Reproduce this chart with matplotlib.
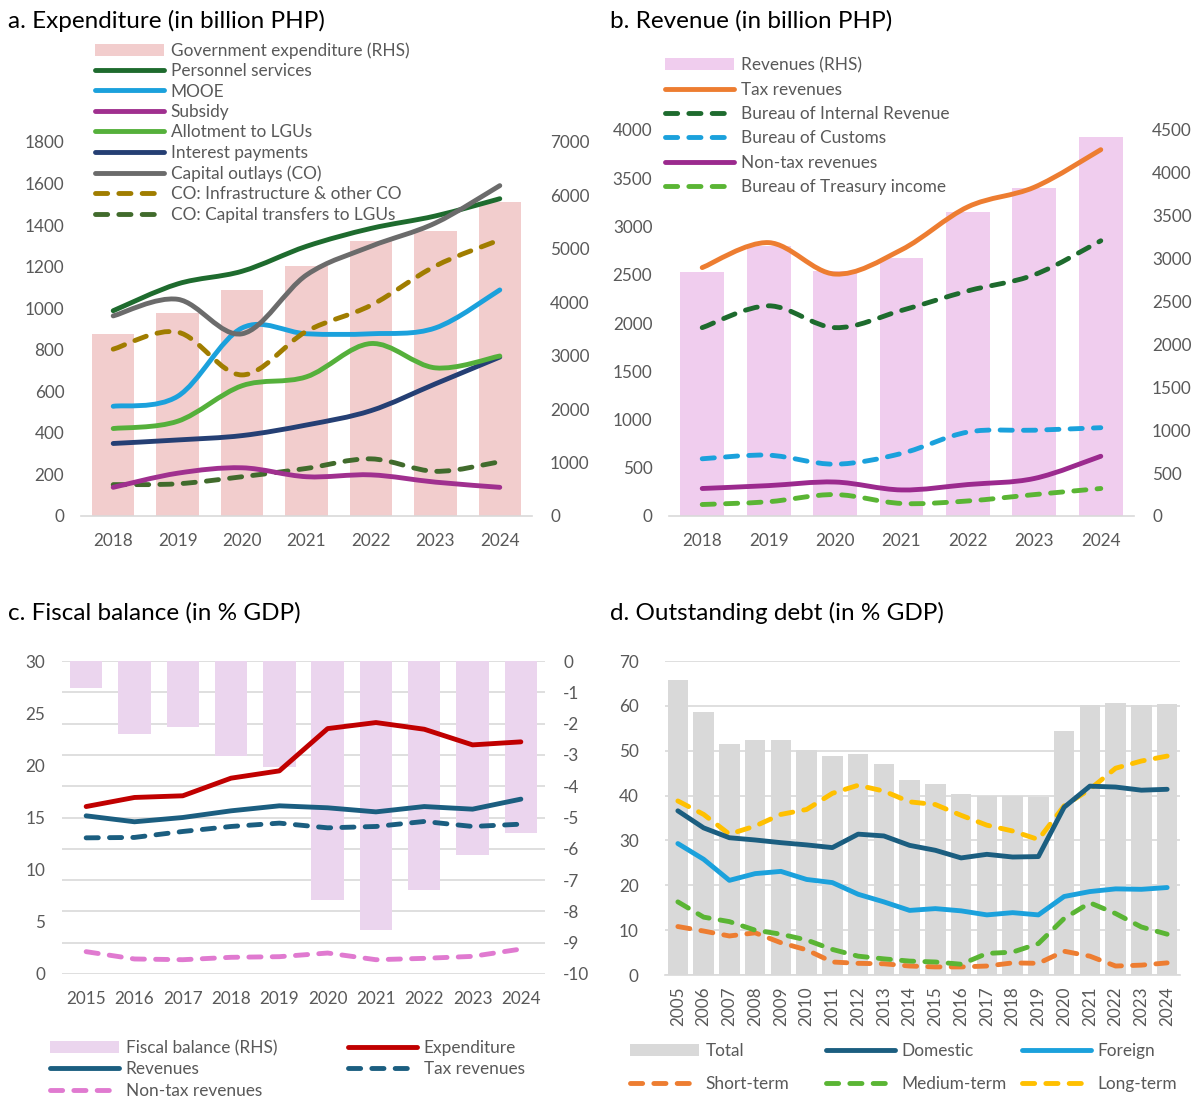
import numpy as np
import matplotlib
matplotlib.use("Agg")
import matplotlib.pyplot as plt
from matplotlib.path import Path
from matplotlib.patches import PathPatch, Patch
from matplotlib.lines import Line2D

plt.rcParams['font.family'] = ['Lato', 'DejaVu Sans']
plt.rcParams['axes.unicode_minus'] = False

W, H = 1197, 1097
fig = plt.figure(figsize=(W / 100, H / 100), dpi=100)

# ---------------- DATA ----------------
years_a = [2018, 2019, 2020, 2021, 2022, 2023, 2024]
gov_expenditure = [3409, 3797, 4225, 4673, 5154, 5334, 5876]
personnel = [988, 1117, 1178, 1298, 1384, 1444, 1527]
mooe = [528, 576, 905, 877, 877, 905, 1088]
subsidy = [138, 206, 232, 189, 198, 163, 138]
allot_lgu = [421, 456, 627, 670, 830, 713, 770]
interest = [349, 366, 387, 438, 507, 636, 765]
cap_outlays = [963, 1043, 877, 1160, 1298, 1410, 1590]
co_infra = [803, 885, 679, 889, 1014, 1203, 1329]
co_transfers = [151, 155, 189, 229, 275, 215, 261]

years_b = [2018, 2019, 2020, 2021, 2022, 2023, 2024]
revenues_b = [2846, 3146, 2856, 3012, 3542, 3825, 4417]
tax_rev_b = [2574, 2833, 2507, 2759, 3204, 3407, 3796]
bir = [1952, 2178, 1952, 2130, 2333, 2500, 2852]
customs = [593, 630, 537, 648, 870, 889, 915]
nontax_b = [285, 315, 352, 270, 326, 389, 619]
btr = [119, 148, 222, 130, 156, 222, 285]

years_c = [2015, 2016, 2017, 2018, 2019, 2020, 2021, 2022, 2023, 2024]
fiscal_balance = [-0.87, -2.34, -2.11, -3.04, -3.38, -7.63, -8.60, -7.32, -6.21, -5.51]
expenditure_c = [16.05, 16.92, 17.08, 18.77, 19.47, 23.52, 24.10, 23.46, 21.96, 22.25]
revenues_c = [15.16, 14.59, 15.00, 15.64, 16.12, 15.93, 15.54, 16.05, 15.80, 16.76]
tax_rev_c = [13.05, 13.09, 13.66, 14.14, 14.46, 14.01, 14.14, 14.62, 14.14, 14.36]
nontax_c = [2.14, 1.44, 1.37, 1.60, 1.66, 2.01, 1.37, 1.50, 1.69, 2.39]

years_d = list(range(2005, 2025))
debt_total = [65.7, 58.7, 51.6, 52.4, 52.3, 50.1, 48.8, 49.2, 47.1, 43.4,
              42.6, 40.3, 40.0, 39.9, 39.7, 54.5, 60.3, 60.7, 60.1, 60.5]
debt_domestic = [36.6, 32.8, 30.6, 30.1, 29.5, 29.0, 28.4, 31.4, 31.0, 28.9,
                 27.8, 26.1, 26.9, 26.3, 26.4, 37.4, 42.1, 41.9, 41.2, 41.4]
debt_foreign = [29.3, 25.8, 21.1, 22.6, 23.1, 21.3, 20.6, 18.0, 16.3, 14.4,
                14.8, 14.3, 13.4, 13.9, 13.4, 17.5, 18.6, 19.2, 19.1, 19.5]
debt_short = [10.8, 9.8, 8.7, 9.4, 7.2, 5.6, 2.9, 2.6, 2.5, 2.0,
              1.8, 1.8, 2.0, 2.7, 2.6, 5.3, 4.2, 2.0, 2.2, 2.7]
debt_medium = [16.3, 12.9, 11.9, 10.0, 9.1, 7.8, 5.7, 4.2, 3.6, 3.1,
               2.9, 2.4, 4.8, 5.1, 7.0, 12.6, 16.1, 13.7, 10.7, 9.1]
debt_long = [38.8, 35.8, 31.4, 33.2, 35.8, 36.9, 40.5, 42.3, 41.0, 38.6,
             38.0, 35.6, 33.4, 32.1, 30.2, 37.7, 41.4, 46.1, 47.7, 48.8]

# ---------------- STYLE ----------------
TICK_COLOR = '#595959'
GRID_COLOR = '#D9D9D9'
TICK_FS = 12.3
LEG_FS = 12.4
TITLE_FS = 17.5
LW = 3.5
DASH = (2.5, 2.3)


def px_axes(left, right, top, bottom):
    return fig.add_axes([left / W, 1 - bottom / H, (right - left) / W, (bottom - top) / H])


def style_axes(ax, grid=False):
    for s in ['top', 'left', 'right']:
        ax.spines[s].set_visible(False)
    ax.spines['bottom'].set_color(GRID_COLOR)
    ax.spines['bottom'].set_linewidth(1.2)
    ax.tick_params(length=0, labelsize=TICK_FS, colors=TICK_COLOR, pad=12)
    if grid:
        ax.yaxis.grid(True, color=GRID_COLOR, linewidth=1.2)
        ax.set_axisbelow(True)


def style_twin(ax2):
    for s in ax2.spines.values():
        s.set_visible(False)
    ax2.tick_params(length=0, labelsize=TICK_FS, colors=TICK_COLOR, pad=13)


def smooth_line(ax, xs, ys, color, dashed=False):
    pts = np.column_stack([xs, ys]).astype(float)
    n = len(pts)
    verts = [pts[0]]
    codes = [Path.MOVETO]
    for i in range(n - 1):
        p0 = pts[i - 1] if i > 0 else pts[i]
        p1 = pts[i]
        p2 = pts[i + 1]
        p3 = pts[i + 2] if i + 2 < n else pts[i + 1]
        c1 = p1 + (p2 - p0) / 6.0
        c2 = p2 - (p3 - p1) / 6.0
        verts += [c1, c2, p2]
        codes += [Path.CURVE4] * 3
    patch = PathPatch(Path(verts, codes), fill=False, edgecolor=color, linewidth=LW,
                      capstyle='round', joinstyle='round', zorder=3)
    if dashed:
        patch.set_linestyle((0, DASH))
    ax.add_patch(patch)


def straight_line(ax, xs, ys, color, dashed=False):
    ln, = ax.plot(xs, ys, color=color, linewidth=LW, solid_capstyle='round',
                  solid_joinstyle='round', zorder=3)
    if dashed:
        ln.set_dashes(DASH)
        ln.set_dash_capstyle('round')


def line_handle(color, dashed=False):
    h = Line2D([], [], color=color, linewidth=LW, solid_capstyle='round')
    if dashed:
        h.set_dashes(DASH)
        h.set_dash_capstyle('round')
    return h


def legend_at(handles, labels, x, y, handlelength=4.0, spacing=0.35, fs=LEG_FS):
    lg = fig.legend(handles, labels, loc='upper left', bbox_to_anchor=(x / W, 1 - y / H),
                    bbox_transform=fig.transFigure, frameon=False, fontsize=fs,
                    borderpad=0, borderaxespad=0, handlelength=handlelength,
                    handletextpad=0.4, labelspacing=spacing)
    for t in lg.get_texts():
        t.set_color(TICK_COLOR)
    return lg


# ================= Panel a =================
C_PERS, C_MOOE, C_SUB, C_ALL = '#1E6B2E', '#1BA1DC', '#A0308F', '#55B03B'
C_INT, C_CO, C_INF, C_TRF = '#253F74', '#6B6B6B', '#A07D00', '#416B2C'
C_BAR_A = '#F2CDCD'

axa = px_axes(81, 532, 142, 516)
axa2 = axa.twinx()
axa2.bar(years_a, gov_expenditure, width=0.66, color=C_BAR_A, zorder=1)
axa2.set_ylim(0, 7000)
axa2.set_yticks(range(0, 7001, 1000))
axa.set_zorder(axa2.get_zorder() + 1)
axa.patch.set_visible(False)
for ys, c, d in [(co_transfers, C_TRF, True), (subsidy, C_SUB, False), (interest, C_INT, False),
                 (allot_lgu, C_ALL, False), (mooe, C_MOOE, False), (co_infra, C_INF, True),
                 (personnel, C_PERS, False), (cap_outlays, C_CO, False)]:
    smooth_line(axa, years_a, ys, c, d)
axa.set_xlim(2017.5, 2024.5)
axa.set_ylim(0, 1800)
axa.set_yticks(range(0, 1801, 200))
axa.set_xticks(years_a)
style_axes(axa)
style_twin(axa2)
fig.text(8 / W, 1 - 21 / H, 'a. Expenditure (in billion PHP)', fontsize=TITLE_FS, va='center', ha='left')
legend_at([Patch(facecolor=C_BAR_A), line_handle(C_PERS), line_handle(C_MOOE), line_handle(C_SUB),
           line_handle(C_ALL), line_handle(C_INT), line_handle(C_CO), line_handle(C_INF, True),
           line_handle(C_TRF, True)],
          ['Government expenditure (RHS)', 'Personnel services', 'MOOE', 'Subsidy',
           'Allotment to LGUs', 'Interest payments', 'Capital outlays (CO)',
           'CO: Infrastructure & other CO', 'CO: Capital transfers to LGUs'],
          95, 42, spacing=0.26)

# ================= Panel b =================
C_TAX, C_BIR, C_CUS, C_NT, C_BTR = '#ED7D31', '#1E6B2E', '#1BA1DC', '#9B2A8E', '#5AB534'
C_BAR_B = '#F0CDEE'
axb = px_axes(669, 1134, 130, 516)
axb2 = axb.twinx()
axb2.bar(years_b, revenues_b, width=0.66, color=C_BAR_B, zorder=1)
axb2.set_ylim(0, 4500)
axb2.set_yticks(range(0, 4501, 500))
axb.set_zorder(axb2.get_zorder() + 1)
axb.patch.set_visible(False)
for ys, c, d in [(btr, C_BTR, True), (nontax_b, C_NT, False), (customs, C_CUS, True),
                 (bir, C_BIR, True), (tax_rev_b, C_TAX, False)]:
    smooth_line(axb, years_b, ys, c, d)
axb.set_xlim(2017.5, 2024.5)
axb.set_ylim(0, 4000)
axb.set_yticks(range(0, 4001, 500))
axb.set_xticks(years_b)
style_axes(axb)
style_twin(axb2)
fig.text(610 / W, 1 - 21 / H, 'b. Revenue (in billion PHP)', fontsize=TITLE_FS, va='center', ha='left')
legend_at([Patch(facecolor=C_BAR_B), line_handle(C_TAX), line_handle(C_BIR, True),
           line_handle(C_CUS, True), line_handle(C_NT), line_handle(C_BTR, True)],
          ['Revenues (RHS)', 'Tax revenues', 'Bureau of Internal Revenue', 'Bureau of Customs',
           'Non-tax revenues', 'Bureau of Treasury income'],
          665, 57, spacing=0.49)

# ================= Panel c =================
C_EXP, C_REV, C_NTC = '#C00000', '#1B5E80', '#E07AD0'
C_BAR_C = '#EBD5EE'
axc = px_axes(62, 545, 661, 974)
axc2 = axc.twinx()
axc2.bar(years_c, fiscal_balance, width=0.67, color=C_BAR_C, zorder=1)
axc2.set_ylim(-10, 0)
axc2.set_yticks(range(-10, 1, 1))
axc.set_zorder(axc2.get_zorder() + 1)
axc.patch.set_visible(False)
for ys, c, d in [(nontax_c, C_NTC, True), (tax_rev_c, C_REV, True), (revenues_c, C_REV, False),
                 (expenditure_c, C_EXP, False)]:
    straight_line(axc, years_c, ys, c, d)
axc.set_xlim(2014.5, 2024.5)
axc.set_ylim(0, 30)
axc.set_yticks(range(0, 31, 5))
axc.set_xticks(years_c)
style_axes(axc)
style_twin(axc2)
axc.spines['bottom'].set_visible(False)
axc2.yaxis.grid(True, color=GRID_COLOR, linewidth=1.2)
axc2.set_axisbelow(True)
fig.text(8 / W, 1 - 613 / H, 'c. Fiscal balance (in % GDP)', fontsize=TITLE_FS, va='center', ha='left')
legend_at([Patch(facecolor=C_BAR_C), line_handle(C_REV), line_handle(C_NTC, True)],
          ['Fiscal balance (RHS)', 'Revenues', 'Non-tax revenues'], 50, 1040, spacing=0.31)
legend_at([line_handle(C_EXP), line_handle(C_REV, True)],
          ['Expenditure', 'Tax revenues'], 348, 1040, spacing=0.31)

# ================= Panel d =================
C_TOT, C_DOM, C_FOR, C_SH, C_MED, C_LNG = '#D9D9D9', '#1B5E80', '#1BA1DC', '#ED7D31', '#5AB534', '#FFC000'
axd = px_axes(665, 1180, 661, 975)
axd.bar(years_d, debt_total, width=0.8, color=C_TOT, zorder=1)
for ys, c, d in [(debt_short, C_SH, True), (debt_medium, C_MED, True), (debt_long, C_LNG, True),
                 (debt_foreign, C_FOR, False), (debt_domestic, C_DOM, False)]:
    straight_line(axd, years_d, ys, c, d)
axd.set_xlim(2004.5, 2024.5)
axd.set_ylim(0, 70)
axd.set_yticks(range(0, 71, 10))
axd.set_xticks(years_d)
style_axes(axd, grid=True)
axd.tick_params(axis='y', pad=19)
axd.tick_params(axis='x', rotation=90, pad=8)
fig.text(610 / W, 1 - 613 / H, 'd. Outstanding debt (in % GDP)', fontsize=TITLE_FS, va='center', ha='left')
legend_at([Patch(facecolor=C_TOT), line_handle(C_SH, True)], ['Total', 'Short-term'], 630, 1043, spacing=1.0)
legend_at([line_handle(C_DOM), line_handle(C_MED, True)], ['Domestic', 'Medium-term'], 826, 1043, spacing=1.0)
legend_at([line_handle(C_FOR), line_handle(C_LNG, True)], ['Foreign', 'Long-term'], 1022, 1043, spacing=1.0)

fig.savefig('out.png', dpi=100)
